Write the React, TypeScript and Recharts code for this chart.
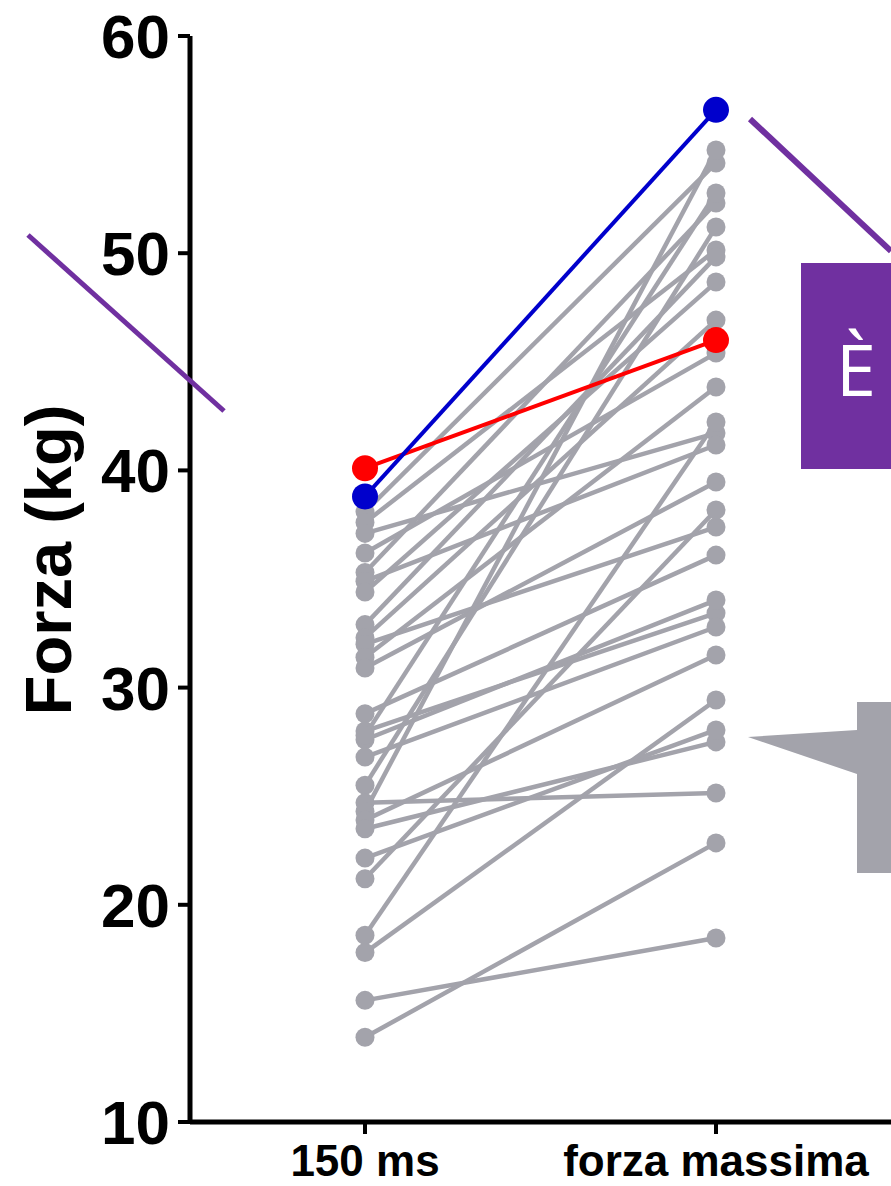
import { Line, LineChart, XAxis, YAxis } from "recharts";

// categories and values
const categories = ["150 ms", "forza massima"];

// each grey subject: value at 150 ms and at forza massima (same index)
const grey150 = [
  38.1, 37.6, 37.1, 36.2, 35.3, 34.9, 34.4, 32.9, 32.3, 32.0, 31.4, 30.9, 28.8, 28.0,
  27.6, 26.8, 25.5, 24.7, 24.3, 23.9, 23.5, 22.15, 21.2, 18.6, 17.8, 15.6, 13.9, 27.8,
];
const greyMax = [
  54.15, 50.15, 41.72, 45.4, 52.31, 41.17, 48.67, 49.83, 46.92, 37.39, 43.84, 39.47, 36.1, 33.43,
  34.03, 32.79, 51.21, 25.15, 54.75, 31.5, 27.5, 28.05, 38.18, 42.23, 29.43, 18.47, 22.85, 52.77,
];
const redPair = [40.1, 46.0];
const bluePair = [38.8, 56.6];
const yTicks = [10, 20, 30, 40, 50, 60];

const GREY = "#a3a3ab";
const RED = "#ff0000";
const BLUE = "#0000cc";
const PURPLE = "#7030a0";
const FONT = "'Liberation Sans', Arial, sans-serif";

const data = categories.map((cat, i) => {
  const row: Record<string, string | number> = { cat };
  grey150.forEach((v, k) => {
    row[`s${k}`] = i === 0 ? v : greyMax[k];
  });
  row.red = redPair[i];
  row.blue = bluePair[i];
  return row;
});

function YLabel() {
  return (
    <text
      x={48}
      y={560}
      transform="rotate(-90, 48, 560)"
      textAnchor="middle"
      dominantBaseline="central"
      fontFamily={FONT}
      fontWeight="bold"
      fontSize={65}
      fill="#000"
    >
      Forza (kg)
    </text>
  );
}

export default function App() {
  return (
    <div style={{ position: "absolute", left: 0, top: 0, width: 891, height: 1186, background: "#fff" }}>
      <LineChart width={891} height={1186} data={data} margin={{ top: 36, right: 0, bottom: 0, left: 0 }}>
        <XAxis
          dataKey="cat"
          type="category"
          height={64}
          padding={{ left: 175, right: 175 }}
          interval={0}
          tickSize={12}
          tickMargin={11}
          axisLine={{ stroke: "#000", strokeWidth: 5 }}
          tickLine={{ stroke: "#000", strokeWidth: 4 }}
          tick={{ fontSize: 44, fontWeight: "bold", fill: "#000", fontFamily: FONT }}
        />
        <YAxis
          width={190}
          domain={[10, 60]}
          ticks={yTicks}
          interval={0}
          tickSize={12}
          tickMargin={8}
          axisLine={{ stroke: "#000", strokeWidth: 5 }}
          tickLine={{ stroke: "#000", strokeWidth: 4 }}
          tick={{ fontSize: 62, fontWeight: "bold", fill: "#000", fontFamily: FONT }}
          label={{ content: () => <YLabel /> }}
        />
        {grey150.map((_, k) => (
          <Line
            key={k}
            dataKey={`s${k}`}
            stroke={GREY}
            strokeWidth={4.5}
            dot={{ r: 9.5, fill: GREY, stroke: "none" }}
            activeDot={false}
            isAnimationActive={false}
          />
        ))}
        <Line
          dataKey="red"
          stroke={RED}
          strokeWidth={4}
          dot={{ r: 13, fill: RED, stroke: "none" }}
          activeDot={false}
          isAnimationActive={false}
        />
        <Line
          dataKey="blue"
          stroke={BLUE}
          strokeWidth={4}
          dot={{ r: 13, fill: BLUE, stroke: "none" }}
          activeDot={false}
          isAnimationActive={false}
        />
      </LineChart>
      <svg
        width={891}
        height={1186}
        style={{ position: "absolute", left: 0, top: 0, pointerEvents: "none" }}
      >
        <line x1={28} y1={235} x2={224} y2={411} stroke={PURPLE} strokeWidth={5} />
        <line x1={750} y1={119} x2={891} y2={251} stroke={PURPLE} strokeWidth={6} />
        <rect x={801} y={263} width={90} height={206} fill={PURPLE} />
        <text
          x={856}
          y={368}
          textAnchor="middle"
          dominantBaseline="central"
          fontFamily="'Open Sans', 'Noto Sans', sans-serif"
          fontSize={72}
          fill="#fff"
        >
          È
        </text>
        <polygon points="748,737 857,730 857,702 891,702 891,873 857,873 857,774" fill={GREY} />
      </svg>
    </div>
  );
}
